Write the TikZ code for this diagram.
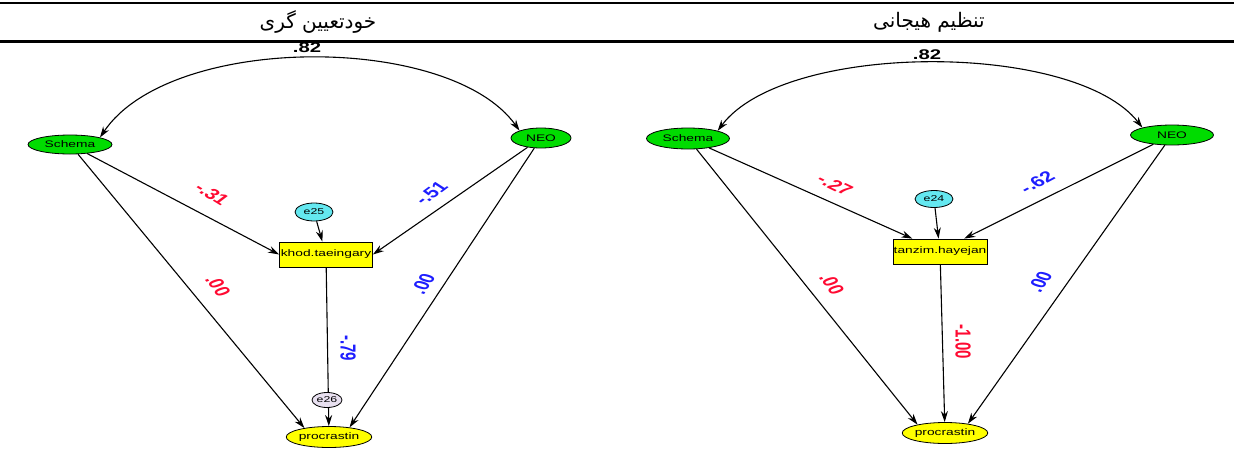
\documentclass[tikz,border=0pt]{standalone}
\usepackage{fontspec}
\setmainfont{Liberation Sans}
\newfontfamily\nodefont[FakeStretch=1.45]{Liberation Sans}
\newfontfamily\arabicfont[Script=Arabic]{DejaVu Sans}
\TeXXeTstate=1
\usetikzlibrary{shapes.geometric,arrows.meta,calc}
\definecolor{semgreen}{RGB}{0,220,0}
\definecolor{errcyan}{RGB}{100,232,240}
\definecolor{errlav}{RGB}{232,224,240}
\definecolor{semyellow}{RGB}{255,255,0}
\definecolor{labred}{RGB}{255,10,50}
\definecolor{labblue}{RGB}{30,30,255}
\newcommand\rotlabel[5]{%
  \begin{scope}[shift={#2},xscale=1.45]
    \node[lbl,text=#3,transform shape,rotate=#4] (#1) at (0,0) {#5};
  \end{scope}}
\begin{document}
\begin{tikzpicture}[x=1pt,y=-1pt,
  lat/.style={ellipse,draw=black,line width=0.8pt,fill=semgreen,inner sep=0pt,
    font=\nodefont\fontsize{9.5}{10}\selectfont},
  err/.style={ellipse,draw=black,line width=0.8pt,inner sep=0pt,
    font=\nodefont\fontsize{8.5}{9}\selectfont},
  obs/.style={rectangle,draw=black,line width=0.8pt,fill=semyellow,inner sep=0pt,
    font=\nodefont\fontsize{9.5}{10}\selectfont},
  endo/.style={ellipse,draw=black,line width=0.8pt,fill=semyellow,inner sep=0pt,
    font=\nodefont\fontsize{9.5}{10}\selectfont},
  arr/.style={-{Stealth[length=11pt,width=7pt]},line width=1.1pt},
  dblarr/.style={{Stealth[length=11pt,width=7pt]}-{Stealth[length=11pt,width=7pt]},line width=1.1pt},
  lbl/.style={inner sep=0pt,font=\bfseries\fontsize{15}{15}\selectfont},
  corr/.style={inner sep=0pt,font=\nodefont\bfseries\fontsize{14}{14}\selectfont},
  hdr/.style={inner sep=0pt,font=\arabicfont\fontsize{20}{24}\selectfont}]
\useasboundingbox (0,0) rectangle (1234,450);
\fill[white] (0,0) rectangle (1234,450);
% table rules
\draw[line width=2.3pt] (0,3) -- (1234,3);
\draw[line width=3pt] (0,41.5) -- (1234,41.5);
\node[hdr] (h1) at (318,22) {\beginR خودتعیین گری\endR};
\node[hdr] (h2) at (929,22) {\beginR تنظیم هیجانی\endR};

% ---------- left diagram ----------
\node[lat,minimum width=84pt,minimum height=19pt] (S1) at (70,144.5) {Schema};
\node[lat,minimum width=60pt,minimum height=20pt] (N1) at (541,138) {NEO};
\node[err,fill=errcyan,minimum width=38pt,minimum height=18pt] (E25) at (314,212) {e25};
\node[obs,minimum width=93pt,minimum height=25pt] (B1) at (326,254.5) {khod.taeingary};
\node[endo,minimum width=82pt,minimum height=21pt] (P1) at (329,437) {procrastin};

\draw[arr] (S1) -- (B1.west);
\draw[arr] (N1) -- (B1.east);
\draw[arr] (E25) -- (B1);
\draw[arr] (S1) -- (P1.160);
\draw[arr] (N1) -- (P1.25);
\draw[arr] (B1) -- (P1);
\draw[dblarr] (S1.north east) .. controls (170,33) and (450,33) .. (N1.north west);

\node[err,fill=errlav,minimum width=30pt,minimum height=15pt] (E26) at (327,400) {e26};

\node[corr] (c1) at (307,48) {.82};
\rotlabel{l1}{(212,194)}{labred}{-42}{-.31}
\rotlabel{l2}{(431,193)}{labblue}{47}{-.51}
\rotlabel{l3}{(218,286)}{labred}{-62}{.00}
\rotlabel{l4}{(423,284)}{labblue}{66}{.00}
\rotlabel{l5}{(348,348)}{labblue}{-90}{-.79}

% ---------- right diagram ----------
\node[lat,minimum width=83pt,minimum height=21pt] (S2) at (688,138.5) {Schema};
\node[lat,minimum width=83pt,minimum height=20pt] (N2) at (1172,135) {NEO};
\node[err,fill=errcyan,minimum width=38pt,minimum height=17pt] (E24) at (934,199) {e24};
\node[obs,minimum width=94pt,minimum height=25pt] (B2) at (940,251.5) {tanzim.hayejan};
\node[endo,minimum width=84pt,minimum height=21pt] (P2) at (945,433) {procrastin};

\draw[arr] (S2) -- (B2.155);
\draw[arr] (N2) -- (B2.28);
\draw[arr] (E24) -- (B2);
\draw[arr] (S2) -- (P2.163);
\draw[arr] (N2) -- (P2.22);
\draw[arr] (B2) -- (P2);
\draw[dblarr] (S2.north east) .. controls (785,41) and (1075,41) .. (N2.north west);

\node[corr] (c2) at (927,55) {.82};
\rotlabel{r1}{(835,185)}{labred}{-35}{-.27}
\rotlabel{r2}{(1037,182)}{labblue}{38}{-.62}
\rotlabel{r3}{(832,284)}{labred}{-63}{.00}
\rotlabel{r4}{(1040,282)}{labblue}{65}{.00}
\rotlabel{r5}{(963,342)}{labred}{-90}{-1.00}
\end{tikzpicture}
\end{document}
